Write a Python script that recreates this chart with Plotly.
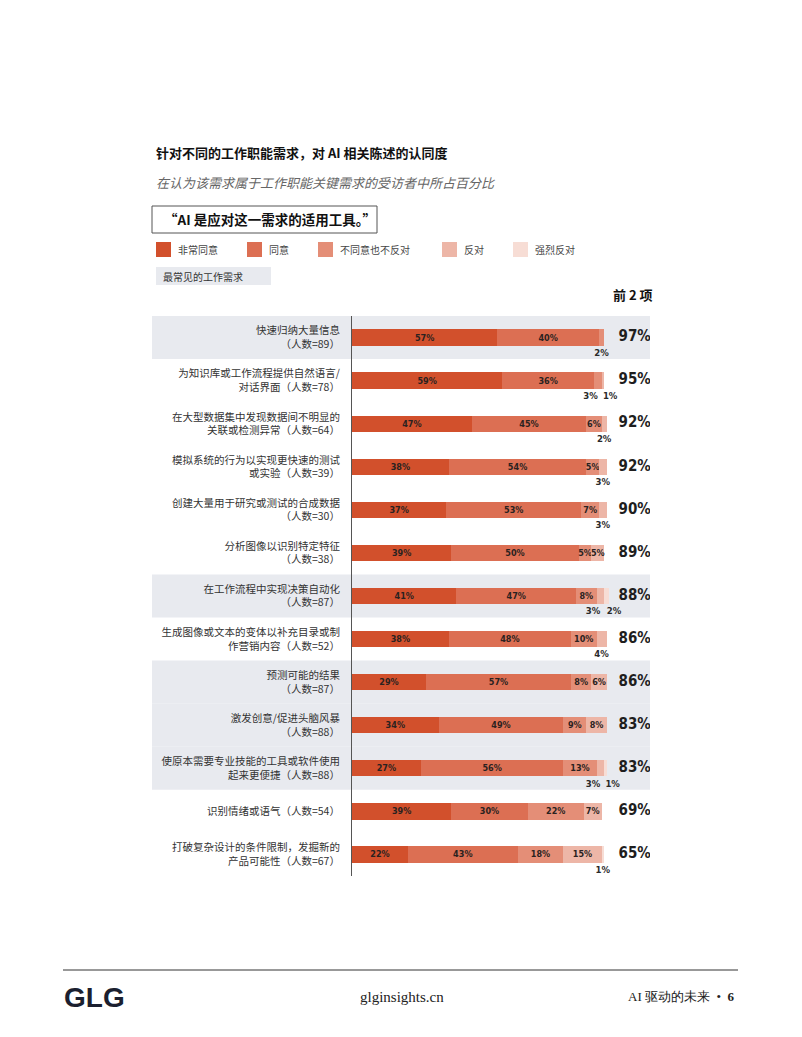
import plotly.graph_objects as go

# the page body has an 8px margin, so the figure sits at (8, 8) in the window
OFF = 8
W, H = 802 - 2 * OFF, 1037 - 2 * OFF

# job needs (rows, top to bottom)
needs = [
    "快速归纳大量信息<br>（人数=89）",
    "为知识库或工作流程提供自然语言/<br>对话界面（人数=78）",
    "在大型数据集中发现数据间不明显的<br>关联或检测异常（人数=64）",
    "模拟系统的行为以实现更快速的测试<br>或实验（人数=39）",
    "创建大量用于研究或测试的合成数据<br>（人数=30）",
    "分析图像以识别特定特征<br>（人数=38）",
    "在工作流程中实现决策自动化<br>（人数=87）",
    "生成图像或文本的变体以补充目录或制<br>作营销内容（人数=52）",
    "预测可能的结果<br>（人数=87）",
    "激发创意/促进头脑风暴<br>（人数=88）",
    "使原本需要专业技能的工具或软件使用<br>起来更便捷（人数=88）",
    "识别情绪或语气（人数=54）",
    "打破复杂设计的条件限制，发掘新的<br>产品可能性（人数=67）",
]

strongly_agree = [57, 59, 47, 38, 37, 39, 41, 38, 29, 34, 27, 39, 22]
agree = [40, 36, 45, 54, 53, 50, 47, 48, 57, 49, 56, 30, 43]
neutral = [2, 3, 6, 5, 7, 5, 8, 10, 8, 9, 13, 22, 18]
disagree = [0, 1, 2, 3, 3, 5, 3, 4, 6, 8, 3, 7, 15]
strongly_disagree = [0, 0, 0, 0, 0, 0, 2, 0, 0, 0, 1, 0, 1]
top2 = [97, 95, 92, 92, 90, 89, 88, 86, 86, 83, 83, 69, 65]

# rows shaded as "most common job needs"
common_rows = [0, 6, 8, 9, 10]

series_names = ["非常同意", "同意", "不同意也不反对", "反对", "强烈反对"]
series_values = [strongly_agree, agree, neutral, disagree, strongly_disagree]
colors = ["#D2502C", "#DC6F53", "#E48E77", "#EDB6A7", "#F7DDD5"]

CJK = "Noto Sans CJK SC"
NARROW = "Liberation Sans Narrow, DejaVu Sans Condensed, Roboto, Liberation Sans, sans-serif"

# plot area in page pixels
L, R, T, B = 352, 650, 316, 876


def px(x):
    return (x - L) / (R - L)


def py(y):
    return (B - y) / (B - T)


rows = list(range(len(needs)))
fig = go.Figure()

for name, vals, col in zip(series_names, series_values, colors):
    fig.add_trace(go.Bar(
        y=rows, x=vals, name=name, orientation="h",
        marker=dict(color=col, line=dict(width=0)),
        text=[f"{v}%" if v >= 5 else "" for v in vals],
        textposition="inside", insidetextanchor="middle", textangle=0,
        constraintext="none",
        textfont=dict(family=NARROW, size=9, color="#2a2220", weight="bold"),
        showlegend=False, hoverinfo="skip",
    ))

# small values printed under the bar end
sx, sy, st, spos = [], [], [], []
for i in rows:
    start = 0
    smalls = []
    for vals in series_values:
        v = vals[i]
        if 0 < v < 5:
            smalls.append((start + v / 2, v))
        start += v
    for k, (c, v) in enumerate(smalls):
        sx.append(c)
        sy.append(i + 0.37)
        st.append(f"{v}%")
        if len(smalls) == 2:
            spos.append("middle left" if k == 0 else "middle right")
        else:
            spos.append("middle center")
fig.add_trace(go.Scatter(
    x=sx, y=sy, text=st, mode="text", textposition=spos,
    textfont=dict(family=NARROW, size=9.5, color="#2a2a2a", weight="bold"),
    showlegend=False, hoverinfo="skip",
))

# top-2 totals
fig.add_trace(go.Scatter(
    x=[111] * len(rows), y=rows, text=[f"{v}%" for v in top2], mode="text",
    textposition="middle center",
    textfont=dict(family=NARROW, size=15, color="#1e1e1e", weight="bold"),
    showlegend=False, hoverinfo="skip",
))

shapes = []
for i in common_rows:
    shapes.append(dict(type="rect", xref="paper", yref="y", x0=px(152), x1=px(650),
                       y0=i - 0.5, y1=i + 0.5, fillcolor="#E8EAEF",
                       line=dict(width=0), layer="below"))

# quote box
shapes.append(dict(type="rect", xref="paper", yref="paper", x0=px(152), x1=px(377),
                   y0=py(233), y1=py(206), line=dict(color="#555", width=1)))
# "most common" tag
shapes.append(dict(type="rect", xref="paper", yref="paper", x0=px(156), x1=px(271),
                   y0=py(285), y1=py(267), fillcolor="#E8EAEF", line=dict(width=0)))
# footer rule
shapes.append(dict(type="line", xref="paper", yref="paper", x0=px(63), x1=px(738),
                   y0=py(970), y1=py(970), line=dict(color="#333", width=1)))

annotations = []


def note(x, y, text, size, color="#222", family=CJK, xanchor="left", **kw):
    annotations.append(dict(x=px(x), y=py(y), xref="paper", yref="paper", text=text,
                            showarrow=False, xanchor=xanchor, yanchor="middle",
                            font=dict(family=family, size=size, color=color, **kw)))


note(154, 153, "针对不同的工作职能需求，对 AI 相关陈述的认同度", 13, "#111", weight="bold")
note(154, 183, "<i>在认为该需求属于工作职能关键需求的受访者中所占百分比</i>", 13, "#666")
note(162, 219, "“AI 是应对这一需求的适用工具。”", 13.5, "#111", weight="bold")

legend_x = [156, 247, 318, 442, 513]
for x, name, col in zip(legend_x, series_names, colors):
    shapes.append(dict(type="rect", xref="paper", yref="paper", x0=px(x), x1=px(x + 15),
                       y0=py(257), y1=py(242), fillcolor=col, line=dict(width=0)))
    note(x + 20, 249, name, 10, "#444")

note(161, 276, "最常见的工作需求", 10, "#333")
note(655, 295, "前 2 项", 13, "#111", xanchor="right", weight="bold")

note(62, 997, "GLG", 28, "#1b1f2f", family="Liberation Sans", weight="bold")
note(402, 997, "glginsights.cn", 15, "#222", family="Liberation Serif", xanchor="center")
note(737, 996, "AI 驱动的未来  •  <b>6</b>", 13, "#222", family="Liberation Serif", xanchor="right")

fig.update_layout(
    width=W, height=H,
    margin=dict(l=L - OFF, r=W - (R - OFF), t=T - OFF, b=H - (B - OFF)),
    barmode="stack", bargap=0.62,
    plot_bgcolor="rgba(0,0,0,0)", paper_bgcolor="white",
    shapes=shapes, annotations=annotations,
    font=dict(family=CJK),
)
fig.update_xaxes(range=[0, 117], visible=False, showgrid=False, zeroline=False)
fig.update_yaxes(
    range=[12.5, -0.5], tickvals=rows, ticktext=needs, showgrid=False, zeroline=False,
    showline=True, linecolor="#555", linewidth=1, ticks="outside", ticklen=9,
    tickcolor="rgba(0,0,0,0)", tickfont=dict(family=CJK, size=10.5, color="#333"),
)

fig.write_html("out.html")
